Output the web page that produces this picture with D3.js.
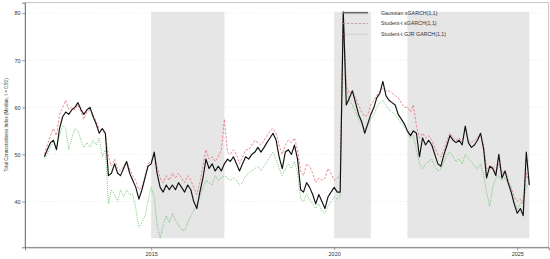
<!DOCTYPE html>
<html>
<head>
<meta charset="utf-8">
<script src="https://cdn.jsdelivr.net/npm/d3@7"></script>
<style>
  body { margin: 0; background: #fff; }
  text { font-family: "Liberation Sans", Arial, sans-serif; }
</style>
</head>
<body>
<div id="chart"></div>
<script>
// monthly observations, Feb 2012 .. May 2025
const months = d3.timeMonth.range(new Date(2012, 1, 1), new Date(2025, 5, 1));

const gaussian = [
  49.5, 51, 52.5, 53, 51, 55.5, 58, 59, 58.5, 59.5,
  60, 61, 59.5, 58.5, 59.5, 60, 58, 56.5, 54.5, 55.5,
  54.5, 45.5, 46, 48, 46, 45.5, 47, 48.5, 46, 44.5,
  43, 40.5, 42.5, 45, 47.5, 48, 50.5, 46, 43, 42,
  43.5, 42.5, 43.5, 42.5, 44, 43, 42, 43.5, 42.5, 40,
  38.5, 42, 45, 49, 47, 48, 46.5, 47.5, 46.5, 48,
  49, 48.5, 49.5, 48, 46.5, 48, 49.5, 49, 50, 50.5,
  51.5, 50.5, 51.5, 52.5, 53.5, 54.5, 53, 49.5, 47, 50.5,
  51, 50, 52, 49, 42.5, 42, 44, 43, 41.5, 39.5,
  41.5, 40, 38.5, 41, 42, 43, 42, 42, 80.3, 60.5,
  62, 63.5, 61, 58.5, 57, 54.5, 56.5, 58.5, 60, 62,
  63, 65.5, 62.5, 61.5, 61, 60.5, 58.5, 57.5, 56.5, 55,
  54, 55, 54.5, 49.5, 53.5, 52, 53, 52, 50, 48,
  47.5, 50, 52, 54, 53, 52.5, 53, 52, 56, 52.5,
  51.5, 52, 53, 54.5, 51, 45, 47.5, 47, 45.5, 50,
  45, 46.5, 44, 42, 39.5, 37.5, 38.5, 37, 50.5, 43.5
];

const studentT = [
  50, 52, 54, 55.5, 54, 58.5, 60, 61.5, 59.5, 60,
  59.5, 60.5, 59, 57.5, 59, 59.5, 58.5, 57, 55.5, 55,
  54.5, 49.5, 47.5, 49, 47, 46.5, 47.5, 48.5, 47, 45.5,
  44.5, 42.5, 43, 45.5, 48, 48.5, 50, 47.5, 45, 44,
  45.5, 44.5, 46, 45, 46, 45, 44, 45.5, 44.5, 43,
  41.5, 44, 47.5, 51, 49, 49.5, 48.5, 49.5, 51, 57.5,
  50.5, 50, 51, 50, 48, 49.5, 51, 51, 52, 53,
  52.5, 52, 53, 54, 55, 55.5, 54.5, 52, 50, 52,
  53, 52.5, 53.5, 51, 46.5, 45.5, 48, 47.5, 46, 44,
  45, 44.5, 45, 47, 46, 44.5, 45, 45.5, 79.5, 64.5,
  63, 63.5, 62, 60.5, 59, 58, 58.5, 60.5, 61.5, 62.5,
  63.5, 64, 63.5, 63.5, 63, 62.5, 62, 61, 60, 60,
  59, 60.5, 56, 53.5, 54.5, 53.5, 54, 53, 51.5, 50,
  49.5, 51, 53, 54.5, 53.5, 53, 53.5, 52.5, 55.5, 53,
  52.5, 53, 53.5, 54.5, 52, 47, 47, 47.5, 46, 48,
  46, 46.5, 44.5, 43, 41, 40, 40.5, 39.5, 46, 44
];

const gjr = [
  49, 50, 51.5, 53, 51.5, 54, 56, 55.5, 51, 53.5,
  55.5, 55, 53, 51.5, 52.5, 51.5, 53, 52, 53.5, 49.5,
  51, 39.5, 42.5, 41.5, 40, 42.5, 41, 42.5, 41.5, 41.5,
  38.5, 34.5, 35.5, 37, 40, 43, 41, 35, 32.2, 35,
  37, 35.5, 37.5, 36, 35, 34, 33.8, 35.5, 37, 38,
  39.5, 41, 43, 44.5, 44, 43.5, 45.5, 44.5, 45, 45.5,
  45, 44.5, 45, 44.5, 43.5, 44, 45.5, 46, 46.5, 47,
  47.5, 46.5, 47.5, 48.5, 49.5, 50.5, 49, 47, 45.5, 47,
  48, 47, 48.5, 46, 40.5, 40, 41.5, 40.5, 39.5, 38.5,
  39.5, 38, 37.5, 39, 40, 41, 40.5, 41, 80, 64,
  61.5, 60.5, 59, 57.5, 56.5, 55.5, 56, 57.5, 58.5, 60,
  61, 61.5, 60.5, 59.5, 59, 58.5, 57.5, 56.5, 56, 54.5,
  53.5, 54, 51, 48, 47, 48, 48.5, 49, 47.5, 46.5,
  47, 48.5, 50, 50.5, 49.5, 48.5, 49, 48, 50, 49,
  48.5, 47.5, 47, 48, 45.5, 42, 39, 43, 45, 45.5,
  44.5, 45, 44, 42.5, 40, 38.5, 39.5, 40.5, 43, 44
];

const seriesNames = ["Gaussian sGARCH(1,1)", "Student-t sGARCH(1,1)", "Student-t GJR GARCH(1,1)"];
const shadedFrom = ["2015-01-01", "2020-01-01", "2022-01-01"];
const shadedTo = ["2017-01-01", "2021-01-01", null]; // null = end of sample
const yTicks = [40, 50, 60, 70, 80];
const xTicks = [2015, 2020, 2025];

const width = 550, height = 259;
const panel = { left: 25, right: 548.7, top: 2.7, bottom: 247.3 };

const svg = d3.select("#chart")
  .append("svg")
  .attr("width", width)
  .attr("height", height)
  .style("background-color", "#fff");

// R style 4% padding on both axes
const tExt = d3.extent(months, d => +d);
const tPad = (tExt[1] - tExt[0]) * 0.04;
const xScale = d3.scaleTime()
  .domain([new Date(tExt[0] - tPad), new Date(tExt[1] + tPad)])
  .range([panel.left, panel.right]);

const allVals = gaussian.concat(studentT, gjr);
const yExt = d3.extent(allVals);
const yPad = (yExt[1] - yExt[0]) * 0.04;
const yScale = d3.scaleLinear()
  .domain([yExt[0] - yPad, yExt[1] + yPad])
  .range([panel.bottom, panel.top]);

// shaded periods, spanning the data range
svg.selectAll(".band")
  .data(shadedFrom.map((d, i) => ({ from: new Date(d), to: shadedTo[i] ? new Date(shadedTo[i]) : months[months.length - 1] })))
  .enter()
  .append("rect")
  .attr("class", "band")
  .attr("x", d => xScale(d.from))
  .attr("width", d => xScale(d.to) - xScale(d.from))
  .attr("y", yScale(yExt[1]))
  .attr("height", yScale(yExt[0]) - yScale(yExt[1]))
  .attr("fill", "#e6e6e6");

// faint grid
svg.selectAll(".grid")
  .data(yTicks)
  .enter()
  .append("line")
  .attr("class", "grid")
  .attr("x1", panel.left)
  .attr("x2", panel.right)
  .attr("y1", d => yScale(d))
  .attr("y2", d => yScale(d))
  .attr("stroke", "#dcdcdc")
  .attr("stroke-width", 0.5)
  .attr("stroke-dasharray", "1,1.5");

// panel border
svg.append("rect")
  .attr("x", panel.left)
  .attr("y", panel.top)
  .attr("width", panel.right - panel.left)
  .attr("height", panel.bottom - panel.top)
  .attr("fill", "none")
  .attr("stroke", "#b5b5b5")
  .attr("stroke-width", 0.8);

const line = vals => d3.line()
  .x((d, i) => xScale(months[i]))
  .y(d => yScale(d))(vals);

const styles = [
  { vals: gaussian, color: "#111", w: 1.15, dash: null, legendColor: "#6a6a6a", legendW: 1.6 },
  { vals: studentT, color: "#e4707a", w: 0.8, dash: "2.5,1.5", legendColor: "#c98a8e", legendW: 0.8 },
  { vals: gjr, color: "#46ad46", w: 0.8, dash: "0.8,1.2", legendColor: "#7cbf7c", legendW: 0.8 }
];

[2, 1, 0].forEach(k => {
  const s = styles[k];
  svg.append("path")
    .attr("d", line(s.vals))
    .attr("fill", "none")
    .attr("stroke", s.color)
    .attr("stroke-width", s.w)
    .attr("stroke-dasharray", s.dash)
    .attr("stroke-linejoin", "round");
});

// axes
const xAxis = d3.axisBottom(xScale)
  .tickValues(xTicks.map(y => new Date(y, 0, 1)))
  .tickFormat(d3.timeFormat("%Y"))
  .tickSize(3)
  .tickPadding(1.5);

const gx = svg.append("g")
  .attr("transform", `translate(0, ${panel.bottom})`)
  .call(xAxis);

const yAxis = d3.axisLeft(yScale)
  .tickValues(yTicks)
  .tickSize(3)
  .tickPadding(1.5);

const gy = svg.append("g")
  .attr("transform", `translate(${panel.left}, 0)`)
  .call(yAxis);

[gx, gy].forEach(g => {
  g.select(".domain").attr("stroke", "#666").attr("stroke-width", 0.8);
  g.selectAll(".tick line").attr("stroke", "#666").attr("stroke-width", 0.6);
  g.selectAll(".tick text")
    .attr("font-size", "5.5px")
    .attr("fill", "#333")
    .attr("font-family", "Liberation Sans, Arial, sans-serif");
});

svg.append("text")
  .attr("transform", `translate(8, ${(panel.top + panel.bottom) / 2}) rotate(-90)`)
  .attr("text-anchor", "middle")
  .attr("font-size", "4.6px")
  .attr("fill", "#333")
  .text("Total Connectedness Index (Median, \u03C4 = 0.50)");

// legend (no box)
const legend = svg.append("g").attr("transform", "translate(343, 12.7)");
styles.forEach((s, i) => {
  legend.append("line")
    .attr("x1", 0)
    .attr("x2", 25)
    .attr("y1", i * 10.8)
    .attr("y2", i * 10.8)
    .attr("stroke", s.legendColor)
    .attr("stroke-width", s.legendW)
    .attr("stroke-dasharray", s.dash);
  legend.append("text")
    .attr("x", 38)
    .attr("y", i * 10.8)
    .attr("dy", "0.35em")
    .attr("font-size", "5.3px")
    .attr("fill", "#333")
    .text(seriesNames[i]);
});
</script>
</body>
</html>
